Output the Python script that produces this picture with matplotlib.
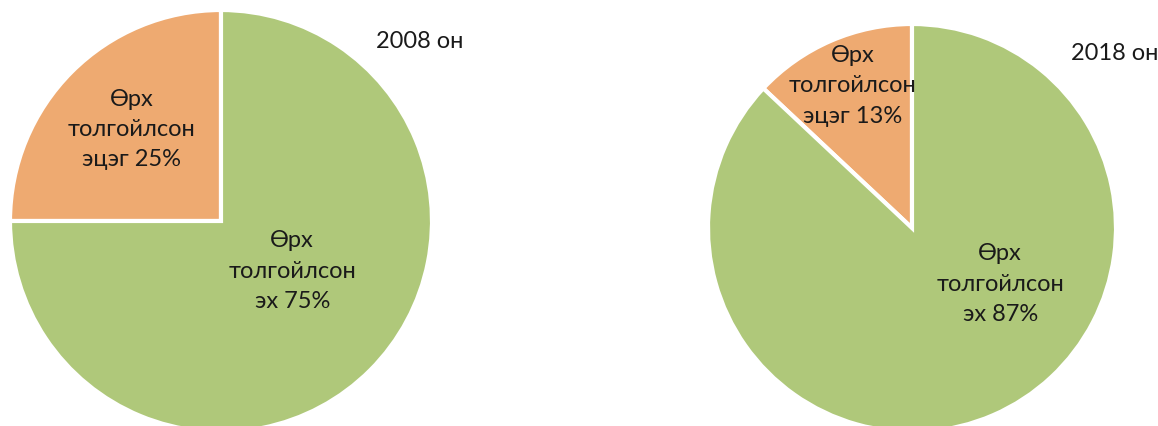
import matplotlib
matplotlib.use('Agg')
import matplotlib.pyplot as plt
import numpy as np

plt.rcParams['font.family'] = ['Lato', 'DejaVu Sans']

years = ['2008 он', '2018 он']
# share of households: [father-headed, mother-headed]
father_pct = [25, 13]
mother_pct = [75, 87]
father_label = 'Өрх\nтолгойлсон\nэцэг {}%'
mother_label = 'Өрх\nтолгойлсон\nэх {}%'

green = '#AFC87A'
orange = '#EEAA71'

fig = plt.figure(figsize=(11.58, 4.27), dpi=100)

# axes boxes in pixels: (center x, center y from top, radius)
boxes = [(221, 222, 211), (912, 229, 204)]
# label positions in data units (radius, angle in degrees)
lab_pos = [[(0.61, 134), (0.41, -34.6)], [(0.76, 112.6), (0.51, -32)]]
title_pos = [(420, 42), (1115, 53)]

W, H = 1158, 427
for i in range(2):
    cx, cy, r = boxes[i]
    ax = fig.add_axes([(cx - r) / W, (H - cy - r) / H, 2 * r / W, 2 * r / H])
    ax.pie([father_pct[i], mother_pct[i]], colors=[orange, green],
           startangle=90, counterclock=True,
           wedgeprops=dict(edgecolor='white', linewidth=3))
    ax.set_xlim(-1, 1)
    ax.set_ylim(-1, 1)
    ax.set_aspect('equal')
    for k, txt in enumerate([father_label.format(father_pct[i]),
                             mother_label.format(mother_pct[i])]):
        rr, ang = lab_pos[i][k]
        ax.text(rr * np.cos(np.radians(ang)), rr * np.sin(np.radians(ang)), txt,
                ha='center', va='center', fontsize=17, linespacing=1.55,
                color='#1a1a1a')
    tx, ty = title_pos[i]
    fig.text(tx / W, 1 - ty / H, years[i], ha='center', va='center',
             fontsize=17, color='#1a1a1a')

fig.savefig('out.png', dpi=100)
